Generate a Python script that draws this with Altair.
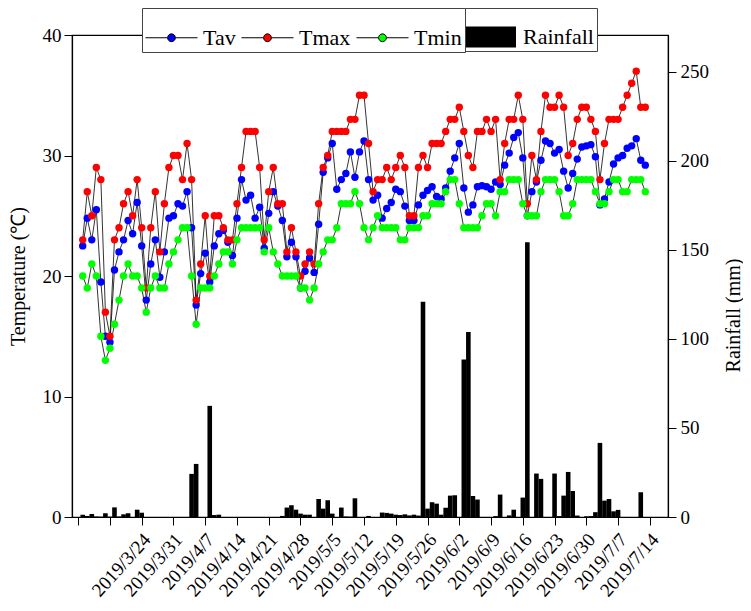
import json
import altair as alt
import pandas as pd

# ---- data (daily, 2019/3/11 .. 2019/7/13) ----
start = pd.Timestamp("2019-03-11")
n_days = 125

tav = [22.5, 24.8, 23.0, 25.5, 19.5, 15.0, 14.5, 20.5, 22.0, 23.0, 24.6, 23.5, 26.1, 22.5, 18.0, 21.0, 23.0, 19.9, 22.0, 24.8, 25.0, 26.0, 25.8, 27.0, 24.0,
       17.6, 20.2, 21.9, 19.5, 22.5, 23.5, 23.8, 22.8, 21.7, 24.8, 28.0, 26.3, 26.7, 24.8, 25.7, 22.3, 25.2, 27.0, 25.8, 24.6, 21.6, 22.8, 21.6, 19.0, 20.4,
       21.5, 20.3, 24.3, 28.6, 29.8, 31.0, 27.2, 28.0, 28.5, 30.3, 28.2, 30.3, 31.2, 28.0, 26.3, 26.7, 24.8, 25.6, 26.1, 27.2, 27.0, 25.8, 24.6, 24.6, 25.9,
       26.7, 27.1, 27.4, 26.6, 26.4, 27.3, 28.7, 29.8, 31.0, 27.3, 25.3, 25.9, 27.4, 27.5, 27.4, 27.2, 27.8, 27.6, 29.2, 30.2, 31.5, 31.9, 29.8, 25.0, 27.0,
       27.8, 29.6, 31.2, 31.0, 30.2, 30.5, 28.7, 27.3, 28.5, 29.7, 30.7, 30.8, 30.9, 29.9, 25.9, 26.4, 27.8, 29.3, 29.8, 30.0, 30.6, 30.8, 31.4, 29.6, 29.2]

tmax = [23, 27, 25, 29, 28, 17, 15, 23, 24, 26, 27, 25, 28, 24, 19, 24, 27, 22, 26, 29, 30, 30, 28, 31, 28,
        18, 21, 25, 20, 25, 25, 24, 23, 23, 26, 29, 32, 32, 32, 29, 23, 27, 29, 26, 26, 22, 24, 22, 20, 21,
        22, 21, 26, 29, 30, 32, 32, 32, 32, 33, 33, 35, 35, 31, 27, 28, 28, 29, 28, 29, 30, 29, 25, 25, 29,
        30, 29, 31, 31, 31, 32, 33, 33, 34, 32, 30, 29, 32, 32, 33, 32, 33, 28, 31, 33, 33, 35, 33, 26, 30,
        28, 32, 35, 34, 34, 35, 34, 30, 31, 33, 34, 34, 33, 32, 28, 31, 33, 33, 33, 34, 35, 36, 37, 34, 34]

tmin = [20, 19, 21, 20, 15, 13, 14, 16, 18, 20, 21, 20, 20, 19, 17, 19, 20, 19, 19, 21, 22, 23, 24, 24, 20,
        16, 19, 19, 19, 20, 21, 22, 22, 21, 23, 24, 24, 24, 24, 24, 22, 24, 22, 21, 20, 20, 20, 20, 19, 19,
        18, 19, 21, 22, 23, 23, 24, 26, 26, 26, 27, 26, 24, 23, 24, 25, 24, 24, 24, 24, 23, 23, 24, 24, 24,
        25, 25, 26, 26, 26, 27, 28, 28, 26, 24, 24, 24, 24, 25, 26, 26, 25, 27, 27, 28, 28, 28, 26, 25, 25,
        25, 27, 28, 28, 28, 27, 25, 25, 26, 28, 28, 28, 28, 27, 26, 26, 27, 28, 28, 27, 27, 28, 28, 28, 27]

rain = [1.3, 0.6, 1.7, 0.3, 0.2, 2.1, 0.2, 5.4, 0.3, 1.5, 2.1, 0.0, 4.1, 2.4, 0, 0, 0, 0, 0, 0, 0, 0, 0, 0, 24.2,
        29.8, 0, 0, 62.4, 1.1, 1.3, 0, 0, 0, 0, 0, 0, 0, 0, 0, 0, 0, 0, 0, 0.6, 5.3, 6.6, 4.1, 1.9, 1.3,
        1.3, 0, 10.1, 4.7, 9.4, 1.9, 0, 5.3, 0.3, 0.2, 10.5, 0, 0, 0.6, 0, 0, 2.5, 2.3, 1.9, 1.3, 1.1, 1.5, 0.9, 1.3, 0.8,
        120.8, 4.7, 8.3, 7.5, 1.3, 5.2, 12.0, 12.2, 0, 88.4, 103.9, 11.8, 9.8, 0, 0, 0, 0.5, 12.6, 0, 0.9, 4.1, 0, 10.9, 154.2, 0,
        24.4, 21.4, 0, 0, 24.4, 0.5, 12.0, 25.3, 14.6, 0.8, 0, 0.4, 0.5, 2.7, 41.6, 9.2, 10.1, 3.2, 4.0, 0, 0, 0, 0, 13.9, 0]

series_names = ["Tav", "Tmax", "Tmin"]
series_colors = ["#0000ff", "#ff0000", "#00ff00"]

# x tick labels at weekly ticks from 2019/3/10 to 2019/7/14 (first two unlabeled)
x_tick_labels = ["", "", "2019/3/24", "2019/3/31", "2019/4/7", "2019/4/14", "2019/4/21",
                 "2019/4/28", "2019/5/5", "2019/5/12", "2019/5/19", "2019/5/26", "2019/6/2",
                 "2019/6/9", "2019/6/16", "2019/6/23", "2019/6/30", "2019/7/7", "2019/7/14"]
x_tick_values = [-1 + 7 * i for i in range(len(x_tick_labels))]

# ---- tables ----
days = list(range(n_days))
dates = [(start + pd.Timedelta(days=d)).strftime("%Y-%m-%d") for d in days]
temp_rows = []
for name, vals in zip(series_names, [tav, tmax, tmin]):
    for d, v in zip(days, vals):
        temp_rows.append({"day": d, "date": dates[d], "series": name, "value": v})
temp_df = pd.DataFrame(temp_rows)
rain_df = pd.DataFrame({"day": days, "date": dates, "rain": rain, "label": "Rainfall"})

FONT = "Liberation Serif"

label_expr = f"{json.dumps(x_tick_labels)}[round((datum.value + 1) / 7)]"

x_enc = alt.X(
    "day:Q",
    scale=alt.Scale(domain=[-1.26, 127.9], nice=False, zero=False),
    axis=alt.Axis(
        values=x_tick_values, labelExpr=label_expr, title=None, grid=False,
        labelAngle=312, labelAlign="right", labelBaseline="middle",
        labelPadding=11, labelOffset=5, labelFont=FONT, labelFontSize=19,
        labelColor="black", labelOverlap=False, labelBound=False, labelFlush=False,
        tickSize=8, tickColor="black", domainColor="black", domainWidth=1.2,
    ),
)

y_temp = alt.Y(
    "value:Q",
    scale=alt.Scale(domain=[0, 40], nice=False),
    axis=alt.Axis(
        orient="left", values=[0, 10, 20, 30, 40], grid=False,
        title="Temperature (℃)", titleFont=FONT, titleFontSize=20, titleFontWeight="normal",
        titleColor="black", titleAngle=270, titleX=-54, titleY=241,
        titleAlign="center", titleBaseline="middle",
        labelFont=FONT, labelFontSize=19, labelColor="black", labelPadding=3,
        tickSize=8, tickColor="black", domainColor="black", domainWidth=1.2,
    ),
)

y_rain = alt.Y(
    "rain:Q",
    scale=alt.Scale(domain=[0, 270.6], nice=False),
    axis=alt.Axis(
        orient="right", values=[0, 50, 100, 150, 200, 250], grid=False,
        title="Rainfall (mm)", titleFont=FONT, titleFontSize=20, titleFontWeight="normal",
        titleColor="black", titleAngle=270, titleX=65, titleY=280,
        titleAlign="center", titleBaseline="middle",
        labelFont=FONT, labelFontSize=19, labelColor="black", labelPadding=4,
        tickSize=8, tickColor="black", domainColor="black", domainWidth=1.2,
    ),
)

bars = alt.Chart(rain_df).mark_bar(size=4.6, opacity=1).encode(
    x=x_enc,
    y=y_rain,
    color=alt.Color(
        "label:N",
        scale=alt.Scale(domain=["Rainfall"], range=["black"]),
        legend=alt.Legend(
            title=None, orient="none", legendX=390, legendY=-27,
            symbolType="M-1,-0.42H1V0.42H-1Z", symbolSize=2500, symbolOpacity=1,
            labelFont=FONT, labelFontSize=22, labelColor="black", labelOffset=6,
            padding=3, strokeColor="#444", fillColor="white",
        ),
    ),
)

lines = alt.Chart(temp_df).mark_line(color="black", strokeWidth=0.8).encode(
    x=x_enc, y=y_temp, detail="series:N"
)

points = alt.Chart(temp_df).mark_circle(size=55, opacity=1).encode(
    x=x_enc,
    y=y_temp,
    fill=alt.Fill(
        "series:N",
        scale=alt.Scale(domain=series_names, range=series_colors),
        legend=alt.Legend(
            title=None, orient="none", legendX=70, legendY=-27, direction="horizontal",
            symbolType="M-1,0H-0.16M0.16,0H1M0.15,0A0.15,0.15,0,1,1,-0.15,0A0.15,0.15,0,1,1,0.15,0",
            symbolSize=2704, symbolStrokeColor="black", symbolStrokeWidth=1, symbolOpacity=1,
            labelFont=FONT, labelFontSize=22, labelColor="black", labelOffset=5,
            columnPadding=3, padding=3, strokeColor="#444", fillColor="white",
        ),
    ),
)

temps = alt.layer(lines, points)

chart = (
    alt.layer(bars, temps)
    .resolve_scale(y="independent")
    .properties(
        width=596, height=482,
        autosize=alt.AutoSizeParams(type="none"),
        padding={"left": 64, "top": 27, "right": 75, "bottom": 84},
    )
    .configure_view(stroke="black", strokeWidth=1.2)
)

chart.save("out.html", embed_options={"renderer": "svg", "actions": False})
